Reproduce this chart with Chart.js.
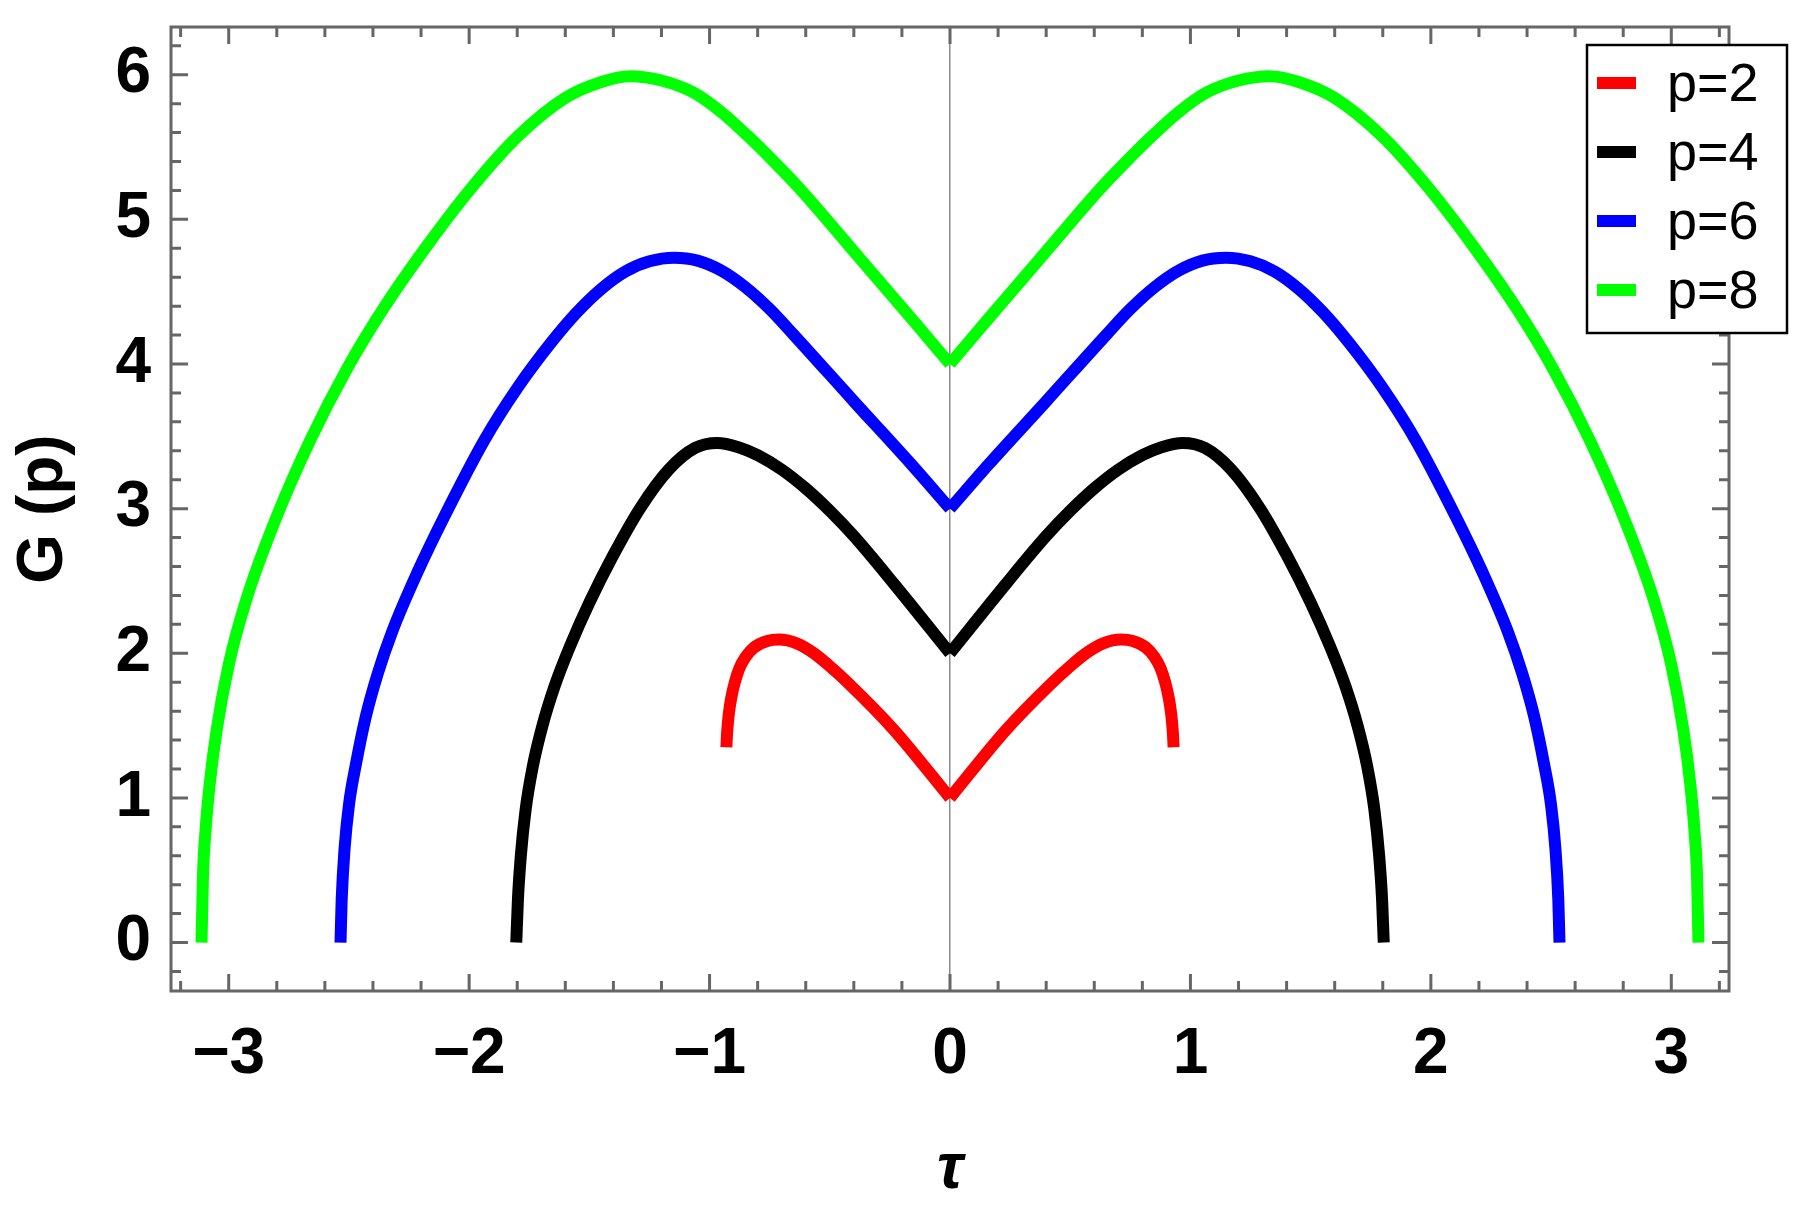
<!DOCTYPE html>
<html>
<head>
<meta charset="utf-8">
<script src="https://cdn.jsdelivr.net/npm/chart.js@4.4.0/dist/chart.umd.min.js"></script>
<style>
  html, body { margin: 0; padding: 0; background: #ffffff; }
  #wrap { width: 1808px; height: 1213px; }
</style>
</head>
<body>
<div id="wrap"><canvas id="myChart" width="1808" height="1213"></canvas></div>
<script>
// Tick labels
const xTickValues = [-3, -2, -1, 0, 1, 2, 3];
const yTickValues = [0, 1, 2, 3, 4, 5, 6];

// p=2
const tauP2Left = [-0.93, -0.927, -0.92, -0.91, -0.895, -0.875, -0.85, -0.815, -0.76, -0.711, -0.64, -0.566, -0.5, -0.427, -0.233, 0];
const gP2Left = [1.35, 1.45, 1.58, 1.69, 1.8, 1.9, 1.975, 2.04, 2.085, 2.095, 2.07, 2.0, 1.91, 1.8, 1.47, 1.0];
const tauP2Right = [0, 0.233, 0.427, 0.5, 0.566, 0.64, 0.711, 0.76, 0.815, 0.85, 0.875, 0.895, 0.91, 0.92, 0.927, 0.93];
const gP2Right = [1.0, 1.47, 1.8, 1.91, 2.0, 2.07, 2.095, 2.085, 2.04, 1.975, 1.9, 1.8, 1.69, 1.58, 1.45, 1.35];

// p=4
const tauP4Left = [-1.804, -1.797, -1.785, -1.765, -1.735, -1.695, -1.645, -1.58, -1.5, -1.4, -1.29, -1.17, -1.06, -0.968, -0.88, -0.8, -0.7, -0.6, -0.5, -0.4, -0.233, 0];
const gP4Left = [0, 0.3, 0.6, 0.92, 1.22, 1.5, 1.77, 2.05, 2.35, 2.68, 3.0, 3.27, 3.42, 3.454, 3.425, 3.37, 3.27, 3.14, 2.985, 2.81, 2.48, 2.0];
const tauP4Right = [0, 0.233, 0.4, 0.5, 0.6, 0.7, 0.8, 0.88, 0.968, 1.06, 1.17, 1.29, 1.4, 1.5, 1.58, 1.645, 1.695, 1.735, 1.765, 1.785, 1.797, 1.804];
const gP4Right = [2.0, 2.48, 2.81, 2.985, 3.14, 3.27, 3.37, 3.425, 3.454, 3.42, 3.27, 3.0, 2.68, 2.35, 2.05, 1.77, 1.5, 1.22, 0.92, 0.6, 0.3, 0];

// p=6
const tauP6Left = [-2.535, -2.53, -2.518, -2.5, -2.47, -2.43, -2.38, -2.32, -2.215, -2.105, -1.938, -1.797, -1.658, -1.55, -1.45, -1.35, -1.25, -1.148, -1.05, -0.95, -0.85, -0.75, -0.649, -0.399, -0.163, 0];
const gP6Left = [0, 0.3, 0.65, 0.95, 1.24, 1.56, 1.86, 2.15, 2.56, 2.94, 3.47, 3.84, 4.15, 4.36, 4.52, 4.64, 4.71, 4.735, 4.715, 4.645, 4.53, 4.38, 4.2, 3.74, 3.31, 3.0];
const tauP6Right = [0, 0.163, 0.399, 0.649, 0.75, 0.85, 0.95, 1.05, 1.148, 1.25, 1.35, 1.45, 1.55, 1.658, 1.797, 1.938, 2.105, 2.215, 2.32, 2.38, 2.43, 2.47, 2.5, 2.518, 2.53, 2.535];
const gP6Right = [3.0, 3.31, 3.74, 4.2, 4.38, 4.53, 4.645, 4.715, 4.735, 4.71, 4.64, 4.52, 4.36, 4.15, 3.84, 3.47, 2.94, 2.56, 2.15, 1.86, 1.56, 1.24, 0.95, 0.65, 0.3, 0];

// p=8
const tauP8Left = [-3.113, -3.107, -3.097, -3.08, -3.05, -3.0, -2.925, -2.801, -2.659, -2.507, -2.354, -2.174, -1.994, -1.8, -1.6, -1.45, -1.33, -1.2, -1.065, -0.95, -0.843, -0.73, -0.621, -0.37, -0.15, 0];
const gP8Left = [0, 0.46, 0.76, 1.08, 1.47, 1.92, 2.38, 2.943, 3.48, 3.97, 4.39, 4.82, 5.21, 5.57, 5.84, 5.95, 5.99, 5.96, 5.875, 5.74, 5.58, 5.395, 5.205, 4.72, 4.295, 4.0];
const tauP8Right = [0, 0.15, 0.37, 0.621, 0.73, 0.843, 0.95, 1.065, 1.2, 1.33, 1.45, 1.6, 1.8, 1.994, 2.174, 2.354, 2.507, 2.659, 2.801, 2.925, 3.0, 3.05, 3.08, 3.097, 3.107, 3.113];
const gP8Right = [4.0, 4.295, 4.72, 5.205, 5.395, 5.58, 5.74, 5.875, 5.96, 5.99, 5.95, 5.84, 5.57, 5.21, 4.82, 4.39, 3.97, 3.48, 2.943, 2.38, 1.92, 1.47, 1.08, 0.76, 0.46, 0];

const series = [
    { label: 'p=2', color: '#ff0000', parts: [[tauP2Left, gP2Left], [tauP2Right, gP2Right]] },
    { label: 'p=4', color: '#000000', parts: [[tauP4Left, gP4Left], [tauP4Right, gP4Right]] },
    { label: 'p=6', color: '#0000ff', parts: [[tauP6Left, gP6Left], [tauP6Right, gP6Right]] },
    { label: 'p=8', color: '#00ff00', parts: [[tauP8Left, gP8Left], [tauP8Right, gP8Right]] },
];

const datasets = [];
series.forEach(function(s) {
    s.parts.forEach(function(part, i) {
        datasets.push({
            label: s.label,
            data: part[0].map(function(t, k) { return { x: t, y: part[1][k] }; }),
            borderColor: s.color,
            backgroundColor: s.color,
            borderWidth: 12,
            pointRadius: 0,
            showLine: true,
            fill: false,
            cubicInterpolationMode: 'monotone',
            inLegend: i === 0
        });
    });
});

const fontFamily = '"Liberation Sans", Arial, sans-serif';
const minus = v => v < 0 ? '\u2212' + Math.abs(v) : String(v);

// frame with inward ticks on all sides + boxed legend
const framePlugin = {
    id: 'frame',
    afterDraw(chart) {
        const ctx = chart.ctx;
        const a = chart.chartArea;
        const x = chart.scales.x;
        const y = chart.scales.y;
        ctx.save();
        ctx.strokeStyle = '#666666';
        ctx.lineWidth = 3;
        ctx.strokeRect(a.left, a.top, a.right - a.left, a.bottom - a.top);
        ctx.beginPath();
        for (let k = -16; k <= 16; k++) {
            const px = x.getPixelForValue(k / 5);
            const len = k % 5 === 0 ? 17 : 10;
            ctx.moveTo(px, a.bottom); ctx.lineTo(px, a.bottom - len);
            ctx.moveTo(px, a.top); ctx.lineTo(px, a.top + len);
        }
        for (let k = -1; k <= 31; k++) {
            const py = y.getPixelForValue(k / 5);
            const len = k % 5 === 0 ? 17 : 10;
            ctx.moveTo(a.left, py); ctx.lineTo(a.left + len, py);
            ctx.moveTo(a.right, py); ctx.lineTo(a.right - len, py);
        }
        ctx.stroke();

        // legend box
        const bx = a.right - 142, by = a.top + 18, bw = 200, bh = 288;
        ctx.fillStyle = '#ffffff';
        ctx.fillRect(bx, by, bw, bh);
        ctx.strokeStyle = '#000000';
        ctx.lineWidth = 2.5;
        ctx.strokeRect(bx, by, bw, bh);
        const items = chart.data.datasets.filter(d => d.inLegend);
        ctx.font = '54px ' + fontFamily;
        ctx.textBaseline = 'middle';
        ctx.textAlign = 'left';
        items.forEach(function(d, i) {
            const ry = by + 38 + i * 69;
            ctx.fillStyle = d.borderColor;
            ctx.fillRect(bx + 10, ry - 6, 39, 12);
            ctx.fillStyle = '#000000';
            ctx.fillText(d.label, bx + 80, ry + 3);
        });
        ctx.restore();
    }
};

const myChart = new Chart(document.getElementById('myChart'), {
    type: 'scatter',
    data: { datasets: datasets },
    plugins: [framePlugin],
    options: {
        responsive: false,
        animation: false,
        devicePixelRatio: 1,
        layout: { padding: { top: 27, right: 79, left: 0, bottom: 0 } },
        plugins: { legend: { display: false }, tooltip: { enabled: false } },
        scales: {
            x: {
                type: 'linear',
                min: -3.24,
                max: 3.24,
                afterBuildTicks: s => { s.ticks = xTickValues.map(v => ({ value: v })); },
                afterFit: s => { s.height = 222; s.paddingLeft = 0; s.paddingRight = 0; },
                grid: {
                    drawTicks: false,
                    color: c => (c.tick && c.tick.value === 0) ? '#8a8a8a' : 'rgba(0,0,0,0)',
                    lineWidth: 1.5
                },
                border: { display: false },
                ticks: {
                    padding: 26,
                    color: '#000000',
                    maxRotation: 0,
                    autoSkip: false,
                    font: { family: fontFamily, size: 64, weight: 'bold' },
                    callback: v => minus(v)
                },
                title: {
                    display: true,
                    text: '\u03c4',
                    color: '#000000',
                    font: { family: fontFamily, size: 64, weight: 'bold', style: 'italic' },
                    padding: { top: 0, bottom: 4 }
                }
            },
            y: {
                type: 'linear',
                min: -0.335,
                max: 6.33,
                afterBuildTicks: s => { s.ticks = yTickValues.map(v => ({ value: v })); },
                afterFit: s => { s.width = 171; s.paddingTop = 0; s.paddingBottom = 0; },
                grid: { display: false, drawTicks: false },
                border: { display: false },
                ticks: {
                    padding: 20,
                    color: '#000000',
                    autoSkip: false,
                    font: { family: fontFamily, size: 64, weight: 'bold' },
                    callback: v => minus(v)
                },
                title: {
                    display: true,
                    text: 'G (p)',
                    color: '#000000',
                    font: { family: fontFamily, size: 64, weight: 'bold' },
                    padding: { top: 6, bottom: 0 }
                }
            }
        }
    }
});
</script>
</body>
</html>
